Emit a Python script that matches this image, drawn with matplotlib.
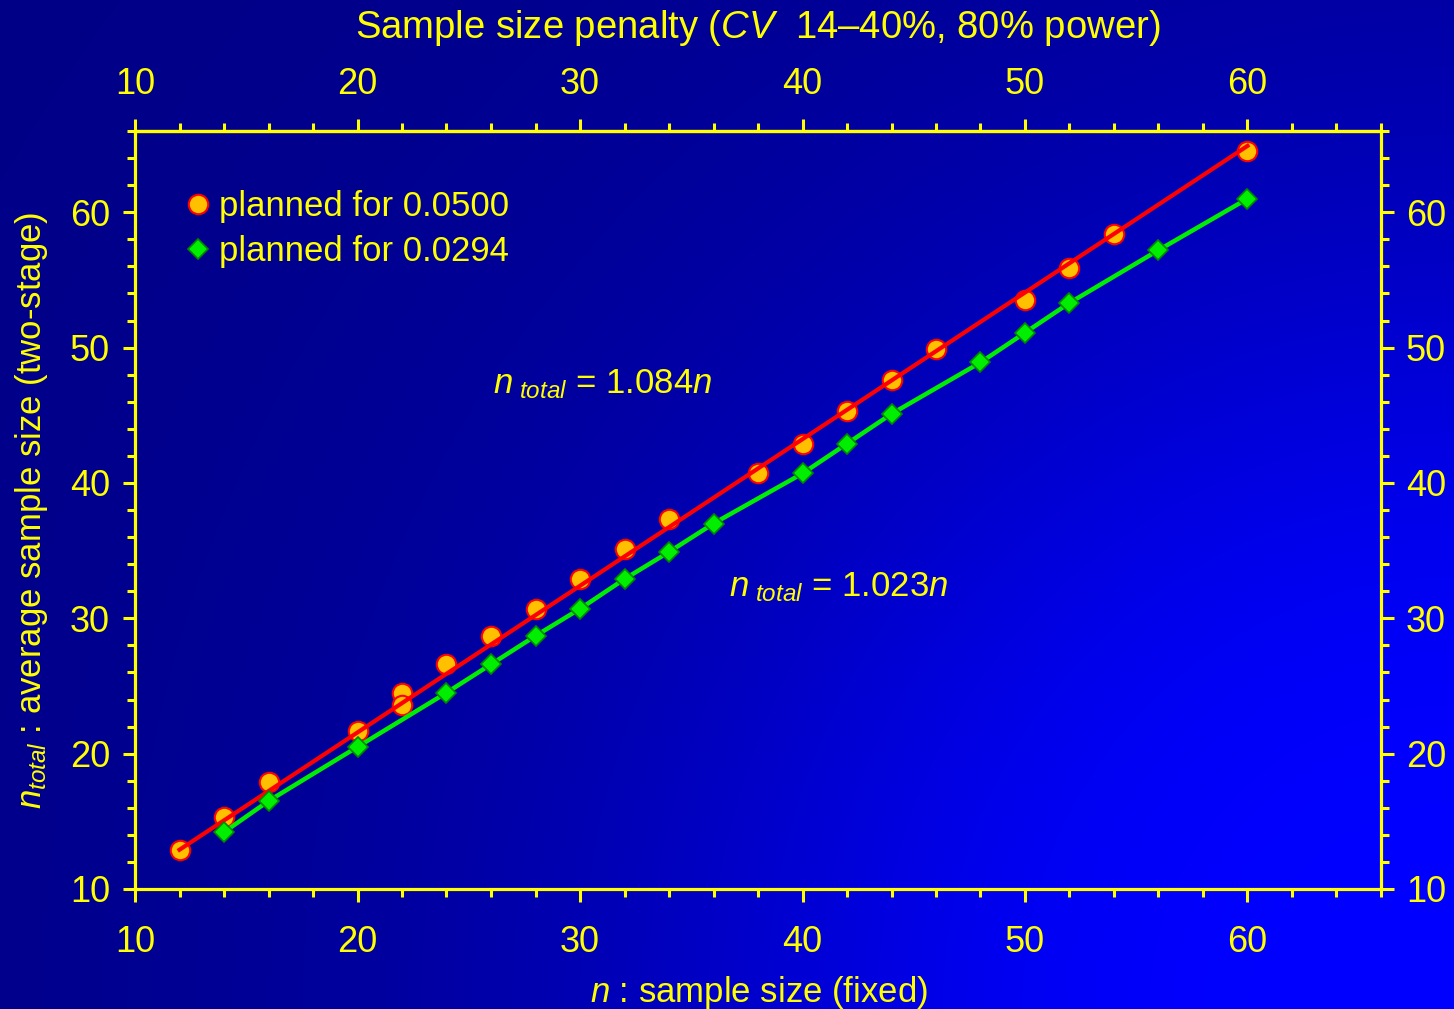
import numpy as np
import matplotlib
matplotlib.use("Agg")
import matplotlib.pyplot as plt
from matplotlib.lines import Line2D

plt.rcParams['font.family'] = ['Liberation Sans', 'DejaVu Sans']
plt.rcParams['mathtext.fontset'] = 'custom'
plt.rcParams['mathtext.rm'] = 'Liberation Sans'
plt.rcParams['mathtext.it'] = 'Liberation Sans:italic'
plt.rcParams['mathtext.bf'] = 'Liberation Sans:bold'

# ---- data ----
red_x = [12, 14, 16, 20, 22, 22, 24, 26, 28, 30, 32, 34, 38, 40, 42, 44, 46, 50, 52, 54, 60]
red_y = [12.9, 15.3, 17.9, 21.7, 24.5, 23.6, 26.6, 28.7, 30.7, 32.9, 35.1, 37.3, 40.7, 42.9,
         45.3, 47.6, 49.9, 53.5, 55.9, 58.4, 64.5]
red_fit_x = [12, 60]
red_fit_y = [12.9, 64.9]

green_x = [14, 16, 20, 24, 26, 28, 30, 32, 34, 36, 40, 42, 44, 48, 50, 52, 56, 60]
green_y = [14.2, 16.5, 20.5, 24.5, 26.6, 28.7, 30.7, 32.9, 34.9, 37.0, 40.7, 42.9, 45.1,
           48.9, 51.1, 53.3, 57.2, 61.0]

major_ticks = [10, 20, 30, 40, 50, 60]
legend_labels = ['planned for 0.0500', 'planned for 0.0294']
eq_labels = [r'$n_{\ total}$ = 1.084$n$', r'$n_{\ total}$ = 1.023$n$']
eq_pos = [(26.1, 46.6), (36.7, 31.6)]

W, H = 1454, 1009
YEL = '#FFFF00'
fig = plt.figure(figsize=(W / 100, H / 100), dpi=100)

# background gradient
bg = fig.add_axes([0, 0, 1, 1], zorder=-10)
xx, yy = np.meshgrid(np.arange(W), np.arange(H))
d = np.hypot(W - xx, H - yy)
f = 1.0 / (1.0 + (d / 790.0) ** 3.6)
img = np.zeros((H, W, 3))
img[..., 2] = (128 + 127 * f) / 255.0
bg.imshow(img, aspect='auto', extent=[0, 1, 0, 1], origin='upper')
bg.axis('off')

ax = fig.add_axes([135 / W, (H - 889) / H, (1381 - 135) / W, (889 - 131) / H])
ax.set_facecolor('none')
ax.set_xlim(10, 66)
ax.set_ylim(10, 66)

ax.plot(red_x, red_y, linestyle='none', marker='o', markersize=14,
        markerfacecolor='#FFC000', markeredgecolor='#FF0000', markeredgewidth=1.5, zorder=3)
ax.plot(red_fit_x, red_fit_y, color='#FF0000', lw=3, zorder=4)
ax.plot(green_x, green_y, color='#00EE00', lw=3.2, zorder=3)
ax.plot(green_x, green_y, linestyle='none', marker='D', markersize=10.5,
        markerfacecolor='#00EE00', markeredgecolor='#008800', markeredgewidth=1.2, zorder=4)

for s in ax.spines.values():
    s.set_color(YEL)
    s.set_linewidth(2.3)

minor = np.arange(10, 67, 2)
ax.set_xticks(major_ticks)
ax.set_yticks(major_ticks)
ax.set_xticks(minor, minor=True)
ax.set_yticks(minor, minor=True)
ax.tick_params(which='both', direction='out', colors=YEL, width=2.2,
               top=False, right=True, labeltop=False, labelright=True, labelsize=26)
ax.tick_params(which='major', length=9)
ax.tick_params(which='minor', length=6)
ax.tick_params(axis='x', which='major', pad=17)
ax.tick_params(axis='y', which='major', pad=9)

sec = ax.secondary_xaxis('top')
sec.set_xticks(major_ticks)
sec.set_xticks(minor, minor=True)
sec.spines['top'].set_color(YEL)
sec.spines['top'].set_linewidth(2.3)
sec.tick_params(which='both', direction='out', colors=YEL, width=2.2, labelsize=26)
sec.tick_params(which='major', length=9, pad=12)
sec.tick_params(which='minor', length=6)

handles = [Line2D([], [], linestyle='none', marker='o', markersize=14,
                  markerfacecolor='#FFC000', markeredgecolor='#FF0000', markeredgewidth=1.5),
           Line2D([], [], linestyle='none', marker='D', markersize=10.5,
                  markerfacecolor='#00EE00', markeredgecolor='#008800', markeredgewidth=1.2)]
leg = fig.legend(handles, legend_labels, loc='upper left',
                 bbox_to_anchor=(184 / W, 1 - 190 / H), frameon=False, fontsize=25,
                 handlelength=0.8, handletextpad=0.2, labelspacing=0.36,
                 borderpad=0, borderaxespad=0)
for t in leg.get_texts():
    t.set_color(YEL)

for lab, (x, y) in zip(eq_labels, eq_pos):
    ax.text(x, y, lab, color=YEL, fontsize=25, ha='left', va='baseline')

fig.text(758 / W, 1 - 28 / H, r'Sample size penalty ($CV$  14–40%, 80% power)',
         color=YEL, fontsize=27.5, ha='center', va='center')
fig.text(759 / W, 1 - 1002 / H, r'$n$ : sample size (fixed)',
         color=YEL, fontsize=25, ha='center', va='baseline')
fig.text(32 / W, 1 - 510 / H, r'$n_{total}$ : average sample size (two-stage)',
         color=YEL, fontsize=25, ha='center', va='center', rotation=90)

fig.savefig('out.png', dpi=100)
